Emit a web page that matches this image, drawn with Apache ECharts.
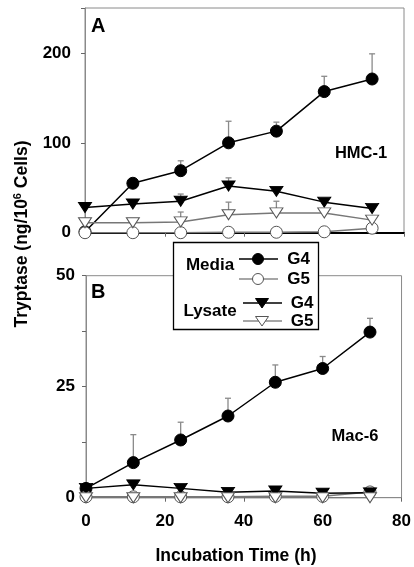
<!DOCTYPE html>
<html><head><meta charset="utf-8">
<script src="https://cdn.jsdelivr.net/npm/echarts@6/dist/echarts.min.js"></script>
<style>html,body{margin:0;padding:0;background:#fff}#c{width:414px;height:567px}</style>
</head><body><div id="c"></div>
<script>
// ---- data ----
const times = [0, 12, 24, 36, 48, 60, 72];
const xTicks = [0, 20, 40, 60, 80];
const yTicksA = [0, 100, 200];
const yTicksB = [0, 25, 50];
// Panel A (HMC-1)
const mediaG4A = [1, 55, 69, 100, 113, 157, 171];
const mediaG4A_err = [null, null, 80, 124, 123, 174, 199];
const mediaG5A = [0, 0, 0, 0.5, 0.5, 1, 5];
const lysateG4A = [28, 32, 35, 52, 46, 34, 27];
const lysateG4A_err = [null, null, 43, 61, null, null, null];
const lysateG5A = [11, 11, 12, 20, 22, 22, 14];
const lysateG5A_err = [null, null, 23, 34, 35, null, 19];
// Panel B (Mac-6)
const mediaG4B = [2.1, 7.9, 13.0, 18.4, 26.0, 29.1, 37.3];
const mediaG4B_err = [null, 14.2, 17.0, 22.4, 29.9, 31.8, 40.4];
const mediaG5B = [0.2, 0.2, 0.2, 0.2, 0.3, 0.3, 1.3];
const lysateG4B = [2.1, 2.9, 2.1, 1.2, 1.5, 1.0, 1.1];
const lysateG5B = [0, 0, 0, 0, 0, 0, 0];

const FONT = "'Liberation Sans', Arial, sans-serif";
const pairs = (ys) => times.map((t, i) => [t, ys[i]]);
const errs = (ys, up) => times.map((t, i) => up[i] == null ? null : [t, ys[i], up[i]]).filter(d => d);

function errSeries(idx, ys, up) {
  return {
    type: 'custom', xAxisIndex: idx, yAxisIndex: idx, z: 1, silent: true,
    data: errs(ys, up), encode: { x: 0, y: [1, 2] },
    renderItem: function (params, api) {
      const p0 = api.coord([api.value(0), api.value(1)]);
      const p1 = api.coord([api.value(0), api.value(2)]);
      const st = { stroke: '#8a8a8a', lineWidth: 1.3 };
      return { type: 'group', children: [
        { type: 'line', shape: { x1: p0[0], y1: p0[1], x2: p1[0], y2: p1[1] }, style: st },
        { type: 'line', shape: { x1: p1[0] - 3, y1: p1[1], x2: p1[0] + 3, y2: p1[1] }, style: st }
      ]};
    }
  };
}
function lineSeries(idx, ys, kind) {
  const filled = kind.indexOf('G4') >= 0;
  const tri = kind.indexOf('tri') >= 0;
  return {
    type: 'line', xAxisIndex: idx, yAxisIndex: idx, data: pairs(ys), z: 3,
    symbol: tri ? 'triangle' : 'circle',
    symbolRotate: tri ? 180 : 0,
    symbolSize: tri ? [13, 10] : 12,
    showAllSymbol: true,
    lineStyle: { color: filled ? '#000' : '#777', width: 1.5 },
    itemStyle: { color: filled ? '#000' : '#fff', borderColor: filled ? '#000' : '#555', borderWidth: 1 },
    emphasis: { disabled: true }, animation: false
  };
}

const baseX = (idx, showLabels, axisColor, axisWidth) => ({
  type: 'value', gridIndex: idx, min: 0, max: 80, interval: 20,
  axisLine: { show: true, lineStyle: { color: axisColor, width: axisWidth } },
  axisTick: { show: true, length: 4, lineStyle: { color: '#666' } },
  axisLabel: { show: showLabels, margin: 15, fontFamily: FONT, fontWeight: 'bold', fontSize: 17, color: '#000',
    formatter: v => xTicks.indexOf(v) >= 0 ? String(v) : '' },
  splitLine: { show: false }
});

const chart = echarts.init(document.getElementById('c'), null, { renderer: 'canvas' });
chart.setOption({
  animation: false,
  backgroundColor: '#fff',
  grid: [
    { left: 85, top: 8, width: 319, height: 224.7, show: true, borderColor: '#8a8a8a', borderWidth: 1, containLabel: false },
    { left: 86, top: 275.7, width: 319, height: 222, show: true, borderColor: '#8a8a8a', borderWidth: 1, containLabel: false }
  ],
  xAxis: [baseX(0, false, '#000', 2), baseX(1, true, '#8a8a8a', 1)],
  yAxis: [
    { type: 'value', gridIndex: 0, min: 0, max: 250, interval: 100,
      axisLine: { show: true, lineStyle: { color: '#8a8a8a' } },
      axisTick: { show: true, length: 4, lineStyle: { color: '#666' } },
      axisLabel: { margin: 14, fontFamily: FONT, fontWeight: 'bold', fontSize: 17, color: '#000',
        formatter: v => yTicksA.indexOf(v) >= 0 ? String(v) : '' },
      splitLine: { show: false } },
    { type: 'value', gridIndex: 1, min: 0, max: 50, interval: 12.5,
      axisLine: { show: true, lineStyle: { color: '#8a8a8a' } },
      axisTick: { show: true, length: 4, lineStyle: { color: '#666' } },
      axisLabel: { margin: 11, fontFamily: FONT, fontWeight: 'bold', fontSize: 17, color: '#000',
        formatter: v => yTicksB.indexOf(v) >= 0 ? String(v) : '' },
      splitLine: { show: false } }
  ],
  series: [
    errSeries(0, mediaG4A, mediaG4A_err),
    errSeries(0, lysateG4A, lysateG4A_err),
    errSeries(0, lysateG5A, lysateG5A_err),
    lineSeries(0, mediaG4A, 'circG4'),
    lineSeries(0, mediaG5A, 'circG5'),
    lineSeries(0, lysateG4A, 'triG4'),
    lineSeries(0, lysateG5A, 'triG5'),
    errSeries(1, mediaG4B, mediaG4B_err),
    lineSeries(1, mediaG4B, 'circG4'),
    lineSeries(1, mediaG5B, 'circG5'),
    lineSeries(1, lysateG4B, 'triG4'),
    lineSeries(1, lysateG5B, 'triG5')
  ],
  graphic: [
    // panel labels
    { type: 'text', left: 91, top: 16, style: { text: 'A', font: "bold 20px " + FONT, fill: '#000' } },
    { type: 'text', left: 91, top: 282, style: { text: 'B', font: "bold 20px " + FONT, fill: '#000' } },
    { type: 'text', x: 361, y: 153, style: { text: 'HMC-1', font: "bold 16.5px " + FONT, fill: '#000', align: 'center', verticalAlign: 'middle' } },
    { type: 'text', x: 355, y: 436, style: { text: 'Mac-6', font: "bold 16.5px " + FONT, fill: '#000', align: 'center', verticalAlign: 'middle' } },
    // axis titles
    { type: 'text', x: 236, y: 556, style: { text: 'Incubation Time (h)', font: "bold 17.5px " + FONT, fill: '#000', align: 'center', verticalAlign: 'middle' } },
    { type: 'text', x: 22, y: 234, rotation: Math.PI / 2,
      style: { text: 'Tryptase (ng/10{s|6} Cells)', font: "bold 17.5px " + FONT, fill: '#000', align: 'center', verticalAlign: 'middle',
        rich: { s: { fontSize: 11, fontWeight: 'bold', fontFamily: FONT, verticalAlign: 'top', padding: [0, 0, 8, 0] } } } },
    // legend
    { type: 'group', z: 50, children: [
      { type: 'rect', shape: { x: 173.5, y: 242.5, width: 145, height: 87 }, style: { fill: '#fff', stroke: '#000', lineWidth: 1.3 } },
      { type: 'text', x: 210, y: 265, style: { text: 'Media', font: "bold 17px " + FONT, fill: '#000', align: 'center', verticalAlign: 'middle' } },
      { type: 'text', x: 210, y: 311, style: { text: 'Lysate', font: "bold 17px " + FONT, fill: '#000', align: 'center', verticalAlign: 'middle' } },
      { type: 'line', shape: { x1: 239, y1: 259, x2: 278, y2: 259 }, style: { stroke: '#000', lineWidth: 1.3 } },
      { type: 'circle', shape: { cx: 258, cy: 259, r: 5.5 }, style: { fill: '#000', stroke: '#000' } },
      { type: 'line', shape: { x1: 239, y1: 279, x2: 278, y2: 279 }, style: { stroke: '#888', lineWidth: 1.3 } },
      { type: 'circle', shape: { cx: 258, cy: 279, r: 5.5 }, style: { fill: '#fff', stroke: '#555', lineWidth: 1 } },
      { type: 'line', shape: { x1: 243, y1: 303, x2: 282, y2: 303 }, style: { stroke: '#000', lineWidth: 1.3 } },
      { type: 'polygon', shape: { points: [[255.5, 298.5], [268.5, 298.5], [262, 308]] }, style: { fill: '#000', stroke: '#000' } },
      { type: 'line', shape: { x1: 243, y1: 321, x2: 282, y2: 321 }, style: { stroke: '#888', lineWidth: 1.3 } },
      { type: 'polygon', shape: { points: [[255.5, 316.5], [268.5, 316.5], [262, 326]] }, style: { fill: '#fff', stroke: '#555', lineWidth: 1 } },
      { type: 'text', x: 298.5, y: 259, style: { text: 'G4', font: "bold 17px " + FONT, fill: '#000', align: 'center', verticalAlign: 'middle' } },
      { type: 'text', x: 298.5, y: 279, style: { text: 'G5', font: "bold 17px " + FONT, fill: '#000', align: 'center', verticalAlign: 'middle' } },
      { type: 'text', x: 302, y: 303, style: { text: 'G4', font: "bold 17px " + FONT, fill: '#000', align: 'center', verticalAlign: 'middle' } },
      { type: 'text', x: 302, y: 321, style: { text: 'G5', font: "bold 17px " + FONT, fill: '#000', align: 'center', verticalAlign: 'middle' } }
    ]}
  ]
});
</script></body></html>
